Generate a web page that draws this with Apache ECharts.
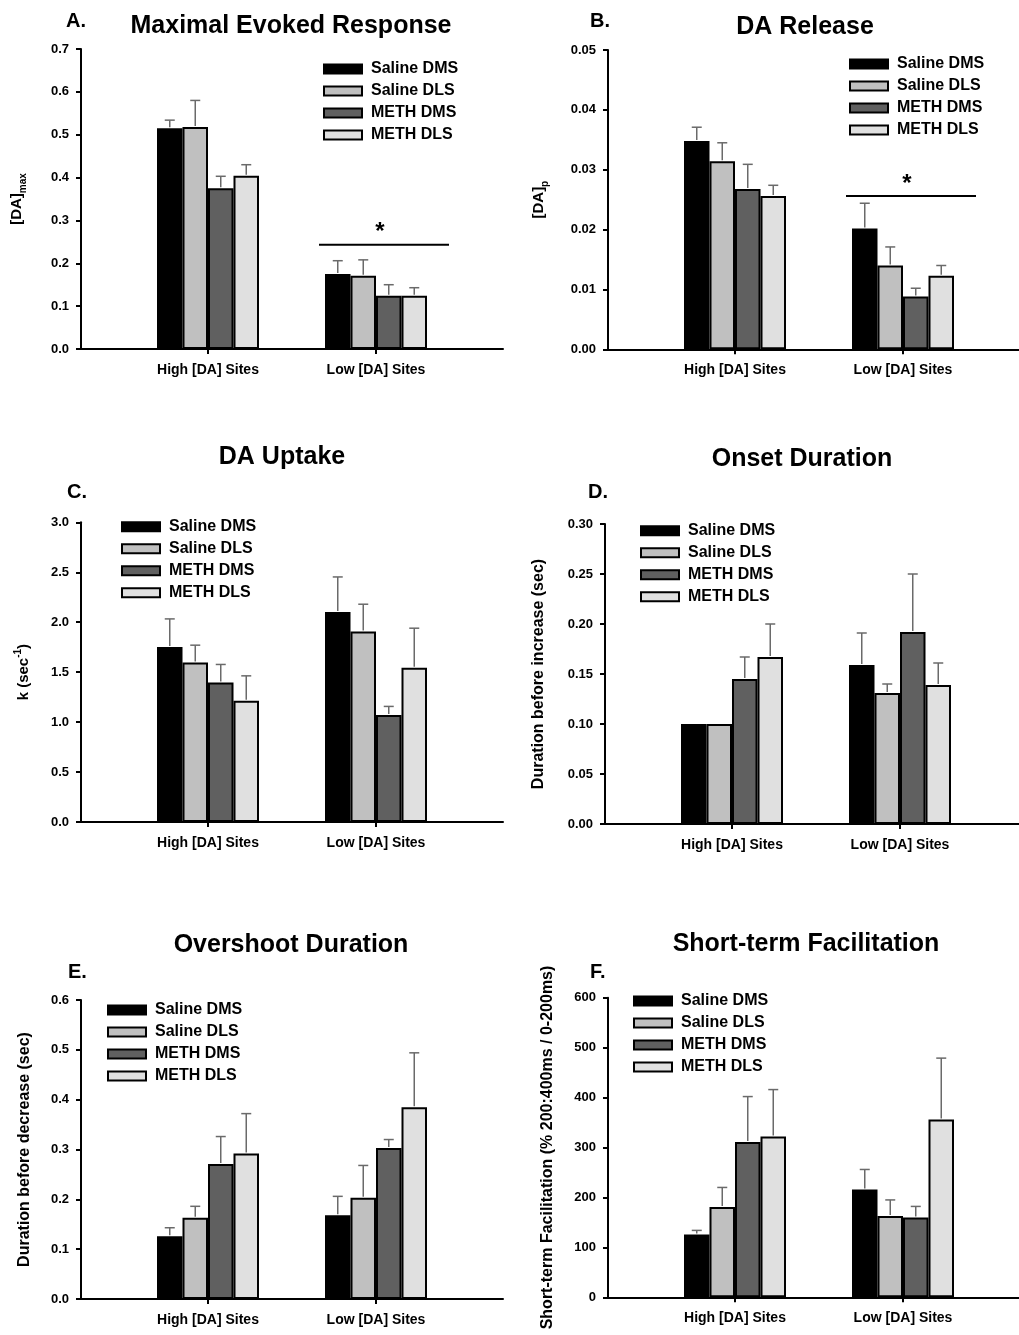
<!DOCTYPE html>
<html><head><meta charset="utf-8">
<script src="https://cdn.jsdelivr.net/npm/echarts@6/dist/echarts.min.js"></script>
<style>html,body{margin:0;padding:0;background:#fff}#c{width:1019px;height:1335px}</style>
</head><body><div id="c"></div>
<script>
// ---------------- DATA ----------------
const categories = ['High [DA] Sites', 'Low [DA] Sites'];
const seriesNames = ['Saline DMS', 'Saline DLS', 'METH DMS', 'METH DLS'];

// A. Maximal Evoked Response ([DA]max)
const maxSalineDMS = [0.515, 0.175];
const maxSalineDLS = [0.518, 0.171];
const maxMethDMS = [0.375, 0.124];
const maxMethDLS = [0.404, 0.124];
const maxSalineDMSSem = [0.019, 0.031];
const maxSalineDLSSem = [0.062, 0.037];
const maxMethDMSSem = [0.028, 0.026];
const maxMethDLSSem = [0.026, 0.019];
const maxTicks = ['0.0', '0.1', '0.2', '0.3', '0.4', '0.5', '0.6', '0.7'];

// B. DA Release ([DA]p)
const relSalineDMS = [0.0348, 0.0202];
const relSalineDLS = [0.0314, 0.0140];
const relMethDMS = [0.0268, 0.0088];
const relMethDLS = [0.0256, 0.0123];
const relSalineDMSSem = [0.0023, 0.0042];
const relSalineDLSSem = [0.0031, 0.0031];
const relMethDMSSem = [0.0041, 0.0014];
const relMethDLSSem = [0.0018, 0.0017];
const relTicks = ['0.00', '0.01', '0.02', '0.03', '0.04', '0.05'];

// C. DA Uptake (k)
const upSalineDMS = [1.753, 2.103];
const upSalineDLS = [1.597, 1.907];
const upMethDMS = [1.397, 1.070];
const upMethDLS = [1.213, 1.543];
const upSalineDMSSem = [0.280, 0.350];
const upSalineDLSSem = [0.173, 0.273];
const upMethDMSSem = [0.180, 0.087];
const upMethDLSSem = [0.250, 0.397];
const upTicks = ['0.0', '0.5', '1.0', '1.5', '2.0', '2.5', '3.0'];

// D. Onset Duration
const onSalineDMS = [0.100, 0.159];
const onSalineDLS = [0.100, 0.131];
const onMethDMS = [0.145, 0.192];
const onMethDLS = [0.167, 0.139];
const onSalineDMSSem = [0, 0.032];
const onSalineDLSSem = [0, 0.009];
const onMethDMSSem = [0.022, 0.058];
const onMethDLSSem = [0.033, 0.022];
const onTicks = ['0.00', '0.05', '0.10', '0.15', '0.20', '0.25', '0.30'];

// E. Overshoot Duration
const ovSalineDMS = [0.126, 0.168];
const ovSalineDLS = [0.163, 0.203];
const ovMethDMS = [0.271, 0.303];
const ovMethDLS = [0.292, 0.385];
const ovSalineDMSSem = [0.017, 0.038];
const ovSalineDLSSem = [0.023, 0.065];
const ovMethDMSSem = [0.055, 0.017];
const ovMethDLSSem = [0.080, 0.109];
const ovTicks = ['0.0', '0.1', '0.2', '0.3', '0.4', '0.5', '0.6'];

// F. Short-term Facilitation
const stfSalineDMS = [126, 216];
const stfSalineDLS = [181, 163];
const stfMethDMS = [311, 160];
const stfMethDLS = [322, 356];
const stfSalineDMSSem = [8, 40];
const stfSalineDLSSem = [39, 32];
const stfMethDMSSem = [91, 22];
const stfMethDLSSem = [94, 123];
const stfTicks = ['0', '100', '200', '300', '400', '500', '600'];

// significance bars (y value of the line over the Low group)
const maxSig = 0.243;
const relSig = 0.0256;

// ---------------- PANELS ----------------
const panels = [
  { title: 'Maximal Evoked Response', letter: 'A.', yName: '{a|[DA]}{b|max}',
    values: [maxSalineDMS, maxSalineDLS, maxMethDMS, maxMethDLS],
    sems: [maxSalineDMSSem, maxSalineDLSSem, maxMethDMSSem, maxMethDLSSem],
    ticks: maxTicks, sig: maxSig },
  { title: 'DA Release', letter: 'B.', yName: '{a|[DA]}{b|p}',
    values: [relSalineDMS, relSalineDLS, relMethDMS, relMethDLS],
    sems: [relSalineDMSSem, relSalineDLSSem, relMethDMSSem, relMethDLSSem],
    ticks: relTicks, sig: relSig },
  { title: 'DA Uptake', letter: 'C.', yName: '{a|k (sec}{s|-1}{a|)}',
    values: [upSalineDMS, upSalineDLS, upMethDMS, upMethDLS],
    sems: [upSalineDMSSem, upSalineDLSSem, upMethDMSSem, upMethDLSSem],
    ticks: upTicks, sig: null },
  { title: 'Onset Duration', letter: 'D.', yName: 'Duration before increase (sec)',
    values: [onSalineDMS, onSalineDLS, onMethDMS, onMethDLS],
    sems: [onSalineDMSSem, onSalineDLSSem, onMethDMSSem, onMethDLSSem],
    ticks: onTicks, sig: null },
  { title: 'Overshoot Duration', letter: 'E.', yName: 'Duration before decrease (sec)',
    values: [ovSalineDMS, ovSalineDLS, ovMethDMS, ovMethDLS],
    sems: [ovSalineDMSSem, ovSalineDLSSem, ovMethDMSSem, ovMethDLSSem],
    ticks: ovTicks, sig: null },
  { title: 'Short-term Facilitation', letter: 'F.', yName: 'Short-term Facilitation (% 200:400ms / 0-200ms)',
    values: [stfSalineDMS, stfSalineDLS, stfMethDMS, stfMethDLS],
    sems: [stfSalineDMSSem, stfSalineDLSSem, stfMethDMSSem, stfMethDLSSem],
    ticks: stfTicks, sig: null }
];

// ---------------- LAYOUT / STYLE ----------------
const FONT = '"Liberation Sans", Arial, Helvetica, sans-serif';
const BAR_W = 25.5, CAP = 10, ERR_COLOR = '#6a6a6a';
const COLORS = ['#000000', '#c0c0c0', '#606060', '#e0e0e0'];
const layouts = [
  { ax: 81,  top: 49,    h: 300,   title: [291, 26],    letter: [66, 21.5],  legend: [323, 61],    nameGap: 53 },
  { ax: 608, top: 50,    h: 299.3, title: [805, 27],    letter: [590, 21.5], legend: [849, 56],    nameGap: 58 },
  { ax: 81,  top: 522.3, h: 299.7, title: [282, 457],   letter: [67, 492.7], legend: [121, 518.7], nameGap: 46 },
  { ax: 605, top: 524,   h: 300,   title: [802, 458.7], letter: [588, 492.7], legend: [640, 522.7], nameGap: 58 },
  { ax: 81,  top: 1000,  h: 299,   title: [291, 945],   letter: [68, 972],   legend: [107, 1002],  nameGap: 48 },
  { ax: 608, top: 997.7, h: 299.6, title: [806, 943.7], letter: [590, 972],  legend: [633, 993],   nameGap: 52 }
];

const nameRich = {
  a: { fontSize: 15, fontWeight: 'bold', fontFamily: FONT, color: '#000', lineHeight: 22, verticalAlign: 'middle' },
  b: { fontSize: 10, fontFamily: FONT, color: '#000', lineHeight: 10, verticalAlign: 'bottom' },
  s: { fontSize: 10, fontWeight: 'bold', fontFamily: FONT, color: '#000', lineHeight: 10, verticalAlign: 'top' }
};

function errRender(params, api) {
  const cat = api.value(0), si = api.value(1), mean = api.value(2), up = api.value(3);
  if (!(up > mean)) return;
  const p0 = api.coord([cat, mean]);
  const p1 = api.coord([cat, up]);
  const x = p0[0] + (si - 1.5) * BAR_W;
  const st = { stroke: ERR_COLOR, lineWidth: 1.5 };
  return { type: 'group', children: [
    { type: 'line', shape: { x1: x, y1: p0[1] - 1, x2: x, y2: p1[1] }, style: st },
    { type: 'line', shape: { x1: x - CAP / 2, y1: p1[1], x2: x + CAP / 2, y2: p1[1] }, style: st }
  ]};
}
function sigRender(params, api) {
  const c = api.coord([api.value(0), api.value(1)]);
  return { type: 'group', children: [
    { type: 'line', shape: { x1: c[0] - 57, y1: c[1], x2: c[0] + 73, y2: c[1] }, style: { stroke: '#000', lineWidth: 2 } },
    { type: 'text', x: c[0] + 4, y: c[1] - 12, style: { text: '*', fontSize: 24, fontWeight: 'bold', fontFamily: FONT, fill: '#000', align: 'center', verticalAlign: 'middle' } }
  ]};
}

const grid = [], xAxis = [], yAxis = [], series = [], legend = [], graphic = [];
panels.forEach((p, k) => {
  const L = layouts[k];
  const gf = 2 * k, gb = 2 * k + 1;
  const yMax = parseFloat(p.ticks[p.ticks.length - 1]);
  const yInt = parseFloat(p.ticks[1]);
  grid.push({ left: L.ax, top: L.top, height: L.h, width: Math.min(422, 1019 - L.ax), outerBoundsMode: 'none', containLabel: false });
  grid.push({ left: L.ax + 43, top: L.top, height: L.h, width: 336, outerBoundsMode: 'none', containLabel: false });
  xAxis.push({ gridIndex: gf, type: 'value', min: 0, max: 1,
    axisLine: { show: true, onZero: false, lineStyle: { color: '#000', width: 2 } },
    axisTick: { show: false }, axisLabel: { show: false }, splitLine: { show: false } });
  xAxis.push({ gridIndex: gb, type: 'category', data: categories,
    axisLine: { show: false },
    axisTick: { show: true, alignWithLabel: true, length: 5, lineStyle: { color: '#000', width: 2 } },
    axisLabel: { margin: 14, fontSize: 14, fontWeight: 'bold', color: '#000', fontFamily: FONT } });
  yAxis.push({ gridIndex: gf, type: 'value', min: 0, max: yMax, interval: yInt,
    axisLine: { show: true, onZero: false, lineStyle: { color: '#000', width: 2 } },
    axisTick: { show: true, length: 5, lineStyle: { color: '#000', width: 2 } },
    axisLabel: { margin: 12, fontSize: 13, fontWeight: 'bold', color: '#000', fontFamily: FONT,
      formatter: (v) => { const i = Math.round(v / yInt); return p.ticks[i] !== undefined ? p.ticks[i] : ''; } },
    splitLine: { show: false },
    name: p.yName, nameLocation: 'middle', nameGap: L.nameGap, nameRotate: 90,
    nameTextStyle: { fontSize: 16, fontWeight: 'bold', color: '#000', fontFamily: FONT, lineHeight: 16, rich: nameRich } });
  yAxis.push({ gridIndex: gb, type: 'value', min: 0, max: yMax, show: false });

  p.values.forEach((vals, i) => {
    series.push({ type: 'bar', name: seriesNames[i], xAxisIndex: gb, yAxisIndex: gb, data: vals,
      barWidth: BAR_W, barGap: '0%', z: 2,
      itemStyle: { color: COLORS[i], borderColor: '#000', borderWidth: 2 } });
  });
  const errData = [];
  p.values.forEach((vals, i) => vals.forEach((v, c) => errData.push([c, i, v, v + p.sems[i][c]])));
  series.push({ type: 'custom', xAxisIndex: gb, yAxisIndex: gb, data: errData, encode: { x: 0, y: 3 },
    renderItem: errRender, z: 3, silent: true });
  if (p.sig !== null) {
    series.push({ type: 'custom', xAxisIndex: gb, yAxisIndex: gb, data: [[1, p.sig]], encode: { x: 0, y: 1 },
      renderItem: sigRender, z: 3, silent: true });
  }
  legend.push({ orient: 'vertical', left: L.legend[0], top: L.legend[1], padding: 0,
    itemWidth: 38, itemHeight: 9, itemGap: 6, icon: 'rect', data: seriesNames, selectedMode: false,
    itemStyle: { borderColor: '#000', borderWidth: 2 },
    textStyle: { fontSize: 16, fontWeight: 'bold', color: '#000', fontFamily: FONT, lineHeight: 16, padding: [0, 0, 0, 4] } });
  graphic.push({ type: 'text', x: L.title[0], y: L.title[1], style: { text: p.title, fontSize: 25, fontWeight: 'bold', fontFamily: FONT, fill: '#000', align: 'center', verticalAlign: 'middle' } });
  graphic.push({ type: 'text', x: L.letter[0], y: L.letter[1], style: { text: p.letter, fontSize: 20, fontWeight: 'bold', fontFamily: FONT, fill: '#000', align: 'left', verticalAlign: 'middle' } });
});

const chart = echarts.init(document.getElementById('c'), null, { renderer: 'canvas' });
chart.setOption({ animation: false, backgroundColor: '#fff', grid, xAxis, yAxis, series, legend, graphic });
</script></body></html>
